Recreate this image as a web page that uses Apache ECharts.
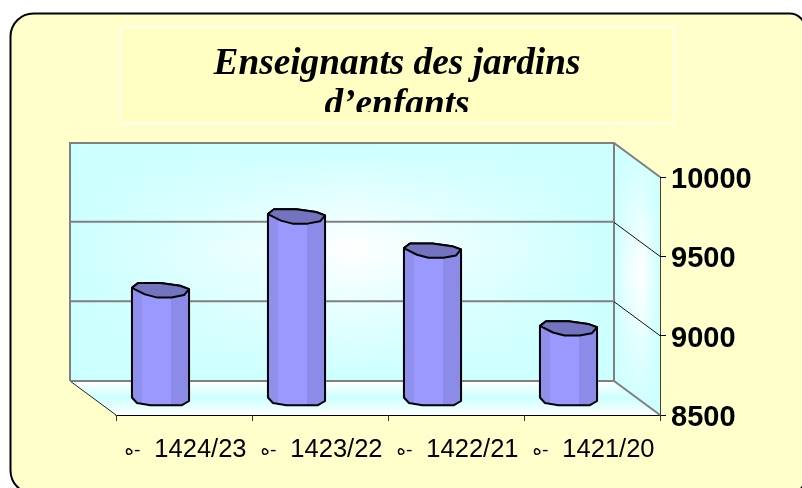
<!DOCTYPE html>
<html><head><meta charset="utf-8">
<style>html,body{margin:0;padding:0;background:#fff;overflow:hidden}#c{width:802px;height:488px}</style>
<script src="https://cdn.jsdelivr.net/npm/echarts@6/dist/echarts.min.js"></script>
</head><body><div id="c"></div>
<script>
const titleText = 'Enseignants des jardins\nd\u2019enfants';
const eraMark = '\u0647-';
const categories = ['1424/23', '1423/22', '1422/21', '1421/20'];
const teachers = [9180, 9645, 9430, 8940];
const yMin = 8500, yMax = 10000, yStep = 500;
const wallLines = [9000, 9500];

const DX = 46, DY = 34;          // 3-D depth of the box, in px
const CYAN = '#CCFFFF', CYAN0 = 'rgba(204,255,255,0)', GREY = '#808080';

const chart = echarts.init(document.getElementById('c'), null, {renderer: 'canvas'});

function checker() {
  const c = document.createElement('canvas'); c.width = c.height = 4;
  const g = c.getContext('2d');
  g.fillStyle = '#FFFFD2'; g.fillRect(0, 0, 4, 4);
  g.fillStyle = '#FFFFB4'; g.fillRect(0, 0, 2, 2); g.fillRect(2, 2, 2, 2);
  return {image: c, repeat: 'repeat'};
}
const pattern = checker();
const lin = (x2, y2, stops) => ({type: 'linear', x: 0, y: 0, x2, y2,
  colorStops: stops.map(s => ({offset: s[0], color: s[1]}))});
const edgeFade = mid => [[0, CYAN], [mid, CYAN0], [1, CYAN]];

function renderBox(params, api) {
  const cs = params.coordSys;
  const L = cs.x, R = cs.x + cs.width, T = cs.y, B = cs.y + cs.height;
  const bl = L - DX, br = R - DX, bt = T - DY, bb = B - DY;
  const backRect = {x: bl, y: bt, width: br - bl, height: bb - bt};
  const side = [[br, bt], [R, T], [R, B], [br, bb]];
  const floor = [[bl, bb], [br, bb], [R, B], [L, B]];
  return {type: 'group', children: [
    {type: 'rect', shape: backRect, style: {fill: '#fff'}},
    {type: 'rect', shape: backRect, style: {fill: lin(1, 0, edgeFade(0.52))}},
    {type: 'rect', shape: backRect, style: {fill: lin(0, 1, edgeFade(0.45))}},
    {type: 'polygon', shape: {points: side}, style: {fill: '#fff'}},
    {type: 'polygon', shape: {points: side}, style: {fill: lin(1, 0, [[0, CYAN], [0.3, 'rgba(204,255,255,0.35)'], [0.62, CYAN0], [1, CYAN]])}},
    {type: 'polygon', shape: {points: side}, style: {fill: lin(0, 1, edgeFade(0.48))}},
    {type: 'polygon', shape: {points: floor}, style: {fill: lin(0, 1, [[0, '#fff'], [0.5, CYAN], [1, '#fff']])}},
    {type: 'polyline', shape: {points: [[bl, bb], [bl, bt], [br, bt], [R, T]]}, style: {stroke: GREY, lineWidth: 2, fill: 'none'}},
    {type: 'line', shape: {x1: L, y1: B, x2: bl, y2: bb}, style: {stroke: '#222', lineWidth: 1}},
    {type: 'polyline', shape: {points: [[bl, bb], [br, bb], [R, B]]}, style: {stroke: GREY, lineWidth: 2, fill: 'none'}},
    {type: 'line', shape: {x1: br, y1: bt, x2: br, y2: bb}, style: {stroke: GREY, lineWidth: 2}}
  ]};
}

function renderWallLine(params, api) {
  const cs = params.coordSys;
  const p = api.coord([0, api.value(0)]);
  const R = cs.x + cs.width, L = cs.x;
  return {type: 'group', children: [
    {type: 'line', shape: {x1: L - DX, y1: p[1] - DY - 0.5, x2: R - DX, y2: p[1] - DY - 0.5}, style: {stroke: GREY, lineWidth: 2}},
    {type: 'line', shape: {x1: R - DX, y1: p[1] - DY, x2: R, y2: p[1]}, style: {stroke: '#111', lineWidth: 1}}
  ]};
}

const topShape = [[-28.5,-2.3],[-22.5,-7],[0,-7],[19.5,-4.3],[28.5,-1],[23.5,5],[11,7.3],[-4,7.3],[-15.5,4.3]];
const bottomShape = [[-28.5,-0.5],[-23.5,5],[-10,7.3],[21,7.3],[28.5,3]];

function renderBar(params, api) {
  const i = api.value(0), v = api.value(1);
  const top = api.coord([i, v]), base = api.coord([i, yMin]);
  const k = api.size([1, 0])[0] * 0.42 / 57;
  const tx = top[0] - DX / 2 - 0.5, ty = top[1] - DY / 2, by = base[1] - DY / 2;
  const tp = topShape.map(q => [tx + q[0] * k, ty + q[1]]);
  const bp = bottomShape.map(q => [tx + q[0] * k, by + q[1]]);
  const body = [tp[0]].concat(bp, [tp[4]], [tp[1], tp[2], tp[3]].reverse());
  const band = lin(1, 0, [[0, '#8F8FEC'], [0.18, '#8F8FEC'], [0.18, '#9999FF'], [0.68, '#9999FF'], [0.68, '#8C8CE8'], [1, '#8C8CE8']]);
  return {type: 'group', children: [
    {type: 'polygon', shape: {points: body}, style: {fill: band, stroke: '#000', lineWidth: 2, lineJoin: 'round'}},
    {type: 'polygon', shape: {points: tp}, style: {fill: '#7373BF', stroke: '#000', lineWidth: 2, lineJoin: 'round'}}
  ]};
}

chart.setOption({
  animation: false,
  backgroundColor: '#fff',
  title: {
    text: titleText, left: 392, top: 39, textAlign: 'center', z: 5,
    textStyle: {fontFamily: 'Liberation Serif', fontStyle: 'italic', fontWeight: 'bold', fontSize: 37.3, lineHeight: 41, color: '#000'}
  },
  graphic: [
    {type: 'rect', z: -10, silent: true, shape: {x: 10.5, y: 13.5, width: 795, height: 480, r: [23, 16, 16, 23]},
      style: {fill: '#FFFFCC', stroke: '#000', lineWidth: 2}},
    {type: 'rect', z: -9, silent: true, shape: {x: 120.5, y: 27.5, width: 553, height: 96},
      style: {fill: pattern, stroke: '#FFFFF0', lineWidth: 2}},
    {type: 'rect', z: 20, silent: true, shape: {x: 121.5, y: 112, width: 551, height: 11},
      style: {fill: pattern}},
    {type: 'rect', z: 20, silent: true, shape: {x: 119.5, y: 122.5, width: 555, height: 2},
      style: {fill: '#FFFFF0'}},
    {type: 'rect', z: 20, silent: true, shape: {x: 119.5, y: 124.5, width: 555, height: 10},
      style: {fill: '#FFFFCC'}}
  ],
  grid: {left: 116, right: 142, top: 177, bottom: 73},
  xAxis: {
    type: 'category', data: categories, boundaryGap: true,
    axisLine: {lineStyle: {color: '#000', width: 1}},
    axisTick: {show: true, alignWithLabel: false, length: 6, lineStyle: {color: '#333'}},
    axisLabel: {
      interval: 0, margin: 22,
      formatter: v => '{h|' + eraMark + '}{g| }{n|' + v + '}',
      rich: {
        h: {fontFamily: 'DejaVu Sans', fontSize: 18, color: '#000', padding: [0, 0, 0, 3]},
        g: {width: 14, fontSize: 13},
        n: {fontFamily: 'Liberation Sans', fontSize: 25.5, color: '#000'}
      }
    }
  },
  yAxis: {
    type: 'value', position: 'right', min: yMin, max: yMax, interval: yStep,
    splitLine: {show: false},
    axisLine: {show: true, lineStyle: {color: '#000', width: 1.5}},
    axisTick: {show: true, length: 6, lineStyle: {color: '#000'}},
    axisLabel: {
      margin: 11, formatter: v => '{v|' + v + '}',
      rich: {v: {padding: [6, 0, 0, 0], fontFamily: 'Liberation Sans', fontWeight: 'bold', fontSize: 29, color: '#000'}}
    }
  },
  series: [
    {type: 'custom', z: 1, silent: true, renderItem: renderBox, data: [[0]], encode: {y: -1, x: -1}},
    {type: 'custom', z: 2, silent: true, renderItem: renderWallLine, data: wallLines.map(v => [v]), encode: {y: 0}},
    {type: 'custom', z: 4, silent: true, renderItem: renderBar, data: teachers.map((v, i) => [i, v]), encode: {x: 0, y: 1}}
  ]
});
</script></body></html>
